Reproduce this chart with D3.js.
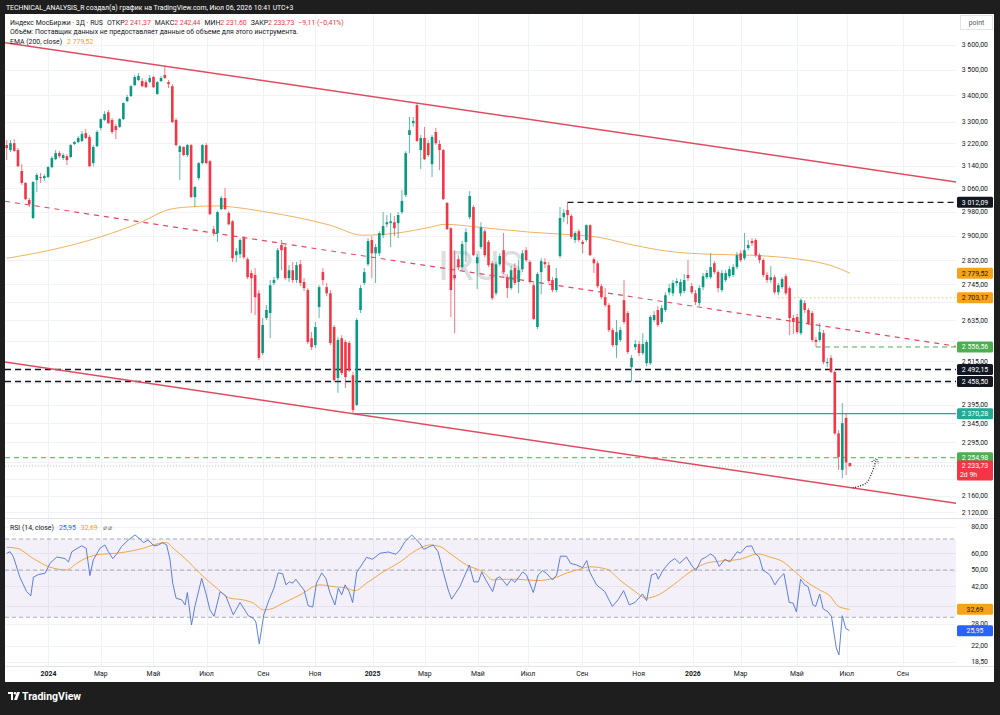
<!DOCTYPE html>
<html>
<head>
<meta charset="utf-8">
<script src="https://cdn.jsdelivr.net/npm/d3@7"></script>
<style>
  body { margin: 0; background: #1e1e1e; }
  svg text { font-family: Roboto, 'Open Sans', sans-serif; }
</style>
</head>
<body>
<svg id="chart" width="1000" height="715"></svg>
<script>
// 3-day candles, [open, high, low, close]
const candles = [
  [3214,3232,3160,3203],[3196,3232,3189,3221],[3221,3236,3189,3193],[3196,3203,3135,3138],[3121,3145,3072,3079],
  [3079,3082,3020,3023],[3020,3027,2996,3006],[2959,3086,2955,3082],[3089,3114,3047,3107],[3100,3114,3079,3098],
  [3096,3110,3086,3103],[3100,3138,3096,3135],[3135,3174,3131,3167],[3163,3196,3160,3185],[3185,3192,3167,3174],
  [3167,3185,3160,3178],[3174,3181,3142,3160],[3171,3218,3167,3214],[3218,3229,3214,3225],[3225,3247,3221,3240],
  [3229,3266,3225,3255],[3258,3273,3236,3240],[3244,3251,3135,3138],[3149,3214,3138,3207],[3210,3269,3207,3262],
  [3277,3314,3269,3310],[3307,3340,3303,3329],[3336,3344,3292,3295],[3307,3314,3255,3262],[3284,3292,3236,3269],
  [3281,3314,3277,3310],[3310,3374,3307,3371],[3378,3402,3374,3394],[3398,3440,3394,3436],[3440,3480,3436,3472],
  [3460,3488,3456,3476],[3456,3468,3432,3436],[3452,3460,3429,3432],[3452,3480,3448,3468],[3472,3476,3429,3432],
  [3406,3456,3402,3452],[3456,3476,3452,3468],[3480,3515,3464,3468],[3452,3460,3429,3444],[3436,3444,3295,3299],
  [3307,3314,3210,3214],[3189,3214,3089,3210],[3207,3210,3174,3178],[3178,3218,3171,3214],[3214,3218,3027,3030],
  [3030,3068,2996,3065],[3096,3153,3089,3149],[3149,3218,3145,3214],[3214,3221,3145,3149],[3156,3160,2969,2972],
  [2922,2932,2899,2909],[2909,2982,2880,2979],[2989,3034,2986,3027],[3027,3061,2986,2989],[2976,2982,2935,2938],
  [2948,2952,2815,2827],[2837,2860,2815,2850],[2840,2892,2827,2886],[2892,2899,2824,2830],[2824,2830,2761,2767],
  [2780,2789,2657,2764],[2774,2796,2651,2705],[2717,2727,2519,2525],[2539,2642,2533,2621],[2642,2681,2636,2666],
  [2657,2758,2582,2742],[2749,2767,2742,2758],[2764,2860,2758,2853],[2870,2886,2789,2853],[2863,2870,2758,2764],
  [2764,2805,2752,2789],[2789,2815,2749,2758],[2758,2815,2749,2805],[2808,2821,2739,2749],[2752,2764,2724,2733],
  [2727,2733,2565,2571],[2582,2600,2548,2556],[2562,2630,2553,2615],[2675,2742,2642,2736],[2783,2796,2742,2758],
  [2736,2749,2708,2717],[2717,2727,2562,2568],[2615,2621,2457,2462],[2468,2585,2427,2577],[2582,2591,2476,2482],
  [2571,2577,2440,2471],[2568,2574,2485,2490],[2476,2485,2370.28,2380],[2394,2642,2391,2636],[2666,2742,2657,2733],
  [2749,2796,2742,2783],[2808,2892,2802,2883],[2886,2899,2764,2843],[2843,2873,2749,2863],[2843,2915,2834,2909],
  [2902,2979,2892,2932],[2938,2969,2928,2945],[2942,2976,2863,2948],[2945,2966,2899,2925],[2942,2979,2892,2969],
  [2979,3054,2972,3017],[3037,3192,3030,3185],[3251,3318,3185,3269],[3295,3318,3281,3303],[3363,3371,3225,3229],
  [3196,3251,3128,3240],[3240,3281,3160,3163],[3221,3232,3171,3178],[3145,3251,3100,3244],[3262,3277,3214,3221],
  [3218,3232,3124,3196],[3196,3200,3020,3023],[3010,3013,2919,2922],[2925,2928,2645,2727],[2774,2853,2597,2764],
  [2824,2837,2789,2799],[2799,2883,2789,2873],[2880,2925,2815,2912],[2962,3051,2955,3034],[2996,3003,2834,2837],
  [2811,2840,2730,2830],[2863,2945,2857,2928],[2915,2922,2830,2837],[2880,2886,2799,2805],[2811,2818,2696,2702],
  [2717,2815,2711,2808],[2808,2843,2802,2834],[2853,2909,2777,2783],[2767,2777,2702,2733],[2733,2802,2727,2789],
  [2796,2811,2742,2749],[2752,2821,2717,2789],[2792,2853,2783,2843],[2853,2863,2815,2821],[2815,2821,2746,2752],
  [2742,2749,2636,2639],[2615,2783,2609,2777],[2783,2827,2714,2818],[2815,2827,2796,2808],[2805,2815,2749,2755],
  [2758,2767,2720,2727],[2727,2796,2720,2764],[2834,2996,2827,2959],[2962,2989,2945,2976],[2986,3012.09,2938,2969],
  [2966,2972,2889,2896],[2886,2915,2876,2909],[2915,2922,2880,2886],[2880,2886,2843,2873],[2886,2938,2880,2935],
  [2935,2938,2834,2837],[2824,2830,2780,2811],[2811,2818,2733,2739],[2739,2746,2699,2705],[2705,2733,2675,2681],
  [2681,2687,2600,2606],[2606,2612,2556,2562],[2562,2636,2525,2600],[2577,2615,2571,2606],[2696,2758,2624,2630],
  [2657,2663,2536,2542],[2499,2533,2458.5,2525],[2556,2577,2548,2565],[2565,2574,2530,2539],[2539,2597,2533,2565],
  [2510,2577,2502,2571],[2510,2651,2505,2645],[2636,2663,2630,2651],[2666,2678,2615,2621],[2630,2681,2624,2672],
  [2666,2720,2660,2711],[2720,2746,2711,2733],[2717,2758,2708,2749],[2749,2764,2739,2755],[2717,2761,2708,2752],
  [2724,2777,2717,2758],[2774,2821,2755,2764],[2739,2749,2714,2720],[2717,2727,2681,2690],[2687,2742,2678,2733],
  [2736,2780,2727,2770],[2767,2789,2761,2780],[2767,2843,2761,2799],[2811,2818,2777,2783],[2783,2789,2720,2733],
  [2727,2789,2720,2780],[2758,2789,2752,2780],[2770,2802,2764,2792],[2774,2808,2767,2799],[2799,2847,2792,2837],
  [2843,2853,2815,2821],[2827,2909,2821,2853],[2860,2886,2853,2870],[2883,2892,2867,2876],[2886,2892,2830,2837],
  [2837,2843,2811,2821],[2821,2827,2767,2774],[2774,2783,2749,2758],[2758,2802,2749,2767],[2767,2774,2714,2720],
  [2720,2749,2711,2742],[2736,2767,2730,2761],[2770,2777,2711,2717],[2733,2739,2591,2642],[2642,2651,2594,2630],
  [2645,2654,2594,2600],[2597,2702,2591,2696],[2687,2696,2657,2666],[2666,2672,2621,2627],[2657,2663,2571,2577],
  [2577,2585,2556.56,2571],[2577,2627,2571,2600],[2597,2606,2507,2513],[2510,2525,2499,2513],[2525,2533,2482,2485],
  [2485,2490,2314,2318],[2318,2327,2224,2257],[2224,2399,2203,2345],[2359,2372,2211,2242.84],[2241.37,2242.44,2231.60,2233.73]
];

// EMA(200, close): [bar, value]
const ema200 = [
  [0,2827],[11.5,2853],[24.8,2896],[36.2,2948],[42.6,2986],[48,2996],[55.9,3000],[60,2996],[69.1,2979],
  [77.9,2959],[85.9,2935],[94.6,2902],[103.7,2909],[112.4,2928],[116.4,2938],[125.7,2928],[139,2912],
  [147.8,2905],[156.8,2896],[166.3,2870],[175.4,2850],[186.8,2840],[197.4,2837],[206.2,2830],[215.2,2815],
  [219.5,2802],[224,2779.52]
];

// RSI(14) and its moving average: [bar, value]
const rsi = [
  [0,59.9],[0.9,61.0],[1.8,57.6],[3.5,46.3],[5.3,39.6],[6.4,37.8],[7.1,46.3],[8.4,47.6],[10.2,48.3],[11.5,53.8],
  [13.3,57.6],[15.5,56.6],[16.4,54.6],[17.3,61.0],[19.9,65.0],[21.1,63.4],[22.1,47.1],[23.0,55.8],[24.8,63.4],
  [26.1,65.6],[27.0,61.0],[28.2,56.6],[29.4,60.0],[30.5,64.5],[32.3,69.2],[34.1,73.1],[35.2,70.5],[36.3,67.3],
  [37.6,69.2],[39.1,65.0],[40.3,65.6],[41.4,67.3],[42.5,65.6],[43.4,55.8],[44.1,43.4],[45.0,36.9],[46.5,36.2],
  [47.4,34.3],[48.0,39.2],[49.1,27.6],[50.0,33.7],[51.8,45.7],[52.9,39.0],[54.0,32.5],[55.1,30.3],[56.7,39.6],
  [58.2,37.8],[60.2,30.8],[62.0,35.2],[64.2,30.5],[65.5,29.7],[66.2,28.5],[67.1,22.5],[68.3,30.8],[69.7,36.2],
  [71.0,41.1],[72.1,48.5],[73.3,48.1],[74.2,42.6],[75.1,44.0],[76.0,43.4],[76.8,45.3],[77.9,42.6],[79.0,40.3],
  [80.1,34.0],[81.3,33.5],[82.3,43.4],[83.7,48.5],[84.8,45.7],[85.9,39.0],[87.2,34.3],[88.1,41.1],[89.0,38.2],
  [89.9,42.6],[91.0,39.6],[91.9,35.2],[93.0,48.9],[94.3,52.8],[95.6,57.4],[97.2,56.2],[99.2,60.0],[101.4,60.8],
  [103.4,59.3],[104.5,62.1],[105.8,68.0],[107.6,73.1],[108.7,69.8],[109.6,67.3],[110.8,62.6],[112.4,64.5],
  [113.3,65.6],[114.6,61.0],[116.0,48.9],[117.3,40.3],[118.2,36.5],[120.4,41.8],[122.9,52.8],[124.1,44.0],
  [125.3,44.0],[126.2,48.9],[127.3,44.9],[129.1,39.6],[130.1,45.7],[131.0,46.5],[131.9,44.6],[132.9,42.3],
  [134.1,45.3],[135.0,43.8],[137.1,49.0],[138.1,47.4],[139.9,39.2],[141.2,47.4],[142.4,49.7],[143.4,48.3],
  [145.0,44.9],[146.1,47.4],[147.1,58.1],[148.7,58.1],[149.8,53.8],[151.4,52.8],[153.0,51.3],[154.1,55.4],
  [154.9,48.9],[156.7,42.6],[158.9,39.6],[160.9,33.7],[162.4,36.2],[163.9,40.0],[165.4,34.3],[166.9,35.2],
  [168.9,38.6],[170.0,35.9],[171.3,47.4],[172.5,48.3],[173.1,45.3],[174.4,50.1],[176.2,54.6],[177.5,56.6],
  [178.8,53.8],[180.6,57.6],[181.9,52.8],[183.1,49.7],[184.6,56.2],[185.7,57.4],[187.0,59.6],[188.1,57.6],
  [189.3,52.0],[190.8,56.2],[192.1,54.6],[194.1,61.0],[194.9,60.0],[196.5,64.5],[197.9,65.0],[198.8,60.0],
  [199.9,57.6],[200.9,50.1],[202.3,48.1],[202.9,47.0],[204.1,42.6],[205.2,45.7],[206.5,48.1],[207.9,35.2],
  [208.9,35.0],[209.8,31.8],[210.9,45.3],[212.0,42.6],[212.9,41.8],[214.2,34.3],[214.9,33.7],[216.0,38.6],
  [216.9,32.9],[218.2,31.8],[219.1,30.3],[220.4,21.5],[221.1,19.95],[222.0,30.5],[222.9,26.6],[223.9,25.95]
];
const rsiMa = [
  [0,64.0],[2.7,63.3],[7.1,56.6],[11.5,51.6],[15.9,50.1],[18.6,53.8],[21.2,57.0],[24.8,59.3],[29.2,60.0],
  [33.6,61.7],[36.3,63.3],[39.8,66.3],[42.5,67.3],[44.2,63.4],[47.8,55.8],[51.3,48.3],[55.8,41.1],[59.3,36.9],
  [62.8,36.2],[65.5,35.0],[68.2,32.5],[69.9,32.7],[73.5,35.0],[77.9,38.2],[83.2,42.6],[86.7,41.8],[90.3,41.1],
  [92.5,40.0],[95.6,43.4],[100.0,49.0],[104.5,54.6],[108.9,62.1],[112.4,65.6],[115.1,64.5],[117.7,60.0],
  [122.2,52.8],[126.6,48.9],[129.2,44.9],[131.0,45.2],[135.5,45.3],[140.8,44.6],[145.2,45.7],[148.7,48.3],
  [152.3,50.5],[154.9,51.8],[159.4,50.5],[162.9,44.9],[166.4,40.3],[170.0,36.9],[173.1,38.2],[177.1,42.6],
  [181.5,48.9],[185.9,53.9],[189.5,55.1],[194.8,56.2],[199.6,59.6],[202.7,57.6],[206.3,54.6],[208.9,50.1],
  [212.5,44.0],[216.0,40.3],[218.7,37.8],[220.9,33.8],[223.9,32.69]
];

// drawn trend lines: two anchors each, [bar, price]
const upperChannel = [[42, 3515], [109, 3371]];
const midChannel = [[0, 3015], [224, 2606]];
const lowerChannel = [[92, 2370.28], [224, 2180]];

// horizontal levels: price, first bar (null = whole chart), kind
const levels = [
  { price: 3012.09, from: 149, kind: 'black' },
  { price: 2703.17, from: 205, kind: 'orange' },
  { price: 2556.56, from: 215, kind: 'green' },
  { price: 2492.15, from: null, kind: 'black' },
  { price: 2458.50, from: null, kind: 'black' },
  { price: 2370.28, from: 92, kind: 'teal' },
  { price: 2254.98, from: null, kind: 'green' },
];

// projected path drawn by the author
const arrowPath = [[224.8, 2179], [228.3, 2191], [229.9, 2218], [231.0, 2251]];

const priceTicks = [3600, 3500, 3400, 3300, 3220, 3140, 3060, 2980, 2900, 2820, 2745, 2690, 2635,
  2575, 2515, 2455, 2395, 2345, 2295, 2245, 2200, 2160, 2120];
const rsiTicks = [80, 60, 50, 42, 34, 28, 22, 18.5];
const rsiBands = [70, 50, 30];

// month ticks in bar units
const timeTicks = [
  { bar: 11.1, label: '2024', year: true }, { bar: 25.0, label: 'Мар' }, { bar: 39.0, label: 'Май' },
  { bar: 53.1, label: 'Июл' }, { bar: 68.2, label: 'Сен' }, { bar: 81.9, label: 'Ноя' },
  { bar: 97.2, label: '2025', year: true }, { bar: 111.1, label: 'Мар' }, { bar: 125.2, label: 'Май' },
  { bar: 138.5, label: 'Июл' }, { bar: 152.9, label: 'Сен' }, { bar: 167.9, label: 'Ноя' },
  { bar: 182.3, label: '2026', year: true }, { bar: 195.0, label: 'Мар' }, { bar: 209.9, label: 'Май' },
  { bar: 223.2, label: 'Июл' }, { bar: 238.1, label: 'Сен' },
];

const W = 1000;
const H = 715;
const pane = { left: 5, right: 956, top: 14, bottom: 518 };
const rsiPane = { top: 519, bottom: 666 };

const UP = '#089981';
const DOWN = '#f23645';
const INK = '#131722';
const CHANNEL = '#e04b61';
const FS = 6.9;

const locale = d3.formatLocale({ decimal: ',', thousands: ' ', grouping: [3], currency: ['', ''] });
const fmt = locale.format(',.2f');

const svg = d3.select('#chart');

const x = d3.scaleLinear().domain([-0.45, 252.2]).range([pane.left, pane.right]);
const y = d3.scaleLog().domain([2106, 3729]).range([pane.bottom, pane.top]);
const yR = d3.scaleLog().domain([17.7, 86.9]).range([rsiPane.bottom, rsiPane.top]);

// frame
svg.append('rect').attr('width', W).attr('height', H).attr('fill', '#1e1e1e');
svg.append('rect').attr('x', 5).attr('y', 14).attr('width', 989).attr('height', 668).attr('fill', '#fff');

const defs = svg.append('defs');
defs.append('clipPath').attr('id', 'clip-main')
  .append('rect').attr('x', pane.left).attr('y', pane.top)
  .attr('width', pane.right - pane.left).attr('height', pane.bottom - pane.top);
defs.append('clipPath').attr('id', 'clip-rsi')
  .append('rect').attr('x', pane.left).attr('y', rsiPane.top)
  .attr('width', pane.right - pane.left).attr('height', rsiPane.bottom - rsiPane.top);

// grid
const grid = svg.append('g').attr('stroke', '#f0f2f6').attr('stroke-width', 1);
grid.selectAll('.hg').data(priceTicks).enter().append('line')
  .attr('x1', pane.left).attr('x2', pane.right)
  .attr('y1', d => Math.round(y(d)) + 0.5).attr('y2', d => Math.round(y(d)) + 0.5);
grid.selectAll('.rg').data(rsiTicks).enter().append('line')
  .attr('x1', pane.left).attr('x2', pane.right)
  .attr('y1', d => Math.round(yR(d)) + 0.5).attr('y2', d => Math.round(yR(d)) + 0.5);
grid.selectAll('.vg').data(timeTicks).enter().append('line')
  .attr('x1', d => Math.round(x(d.bar)) + 0.5).attr('x2', d => Math.round(x(d.bar)) + 0.5)
  .attr('y1', pane.top).attr('y2', rsiPane.bottom);

// pane separators
svg.append('line').attr('x1', 5).attr('x2', 994).attr('y1', 518.5).attr('y2', 518.5)
  .attr('stroke', '#e0e3eb');
svg.append('line').attr('x1', 5).attr('x2', 994).attr('y1', rsiPane.bottom + 0.5).attr('y2', rsiPane.bottom + 0.5)
  .attr('stroke', '#e0e3eb');

// watermark
svg.append('text')
  .attr('x', (pane.left + pane.right) / 2).attr('y', (pane.top + pane.bottom) / 2)
  .attr('text-anchor', 'middle').attr('dominant-baseline', 'central')
  .attr('font-size', 40).attr('fill', '#dcdde1')
  .text('IRUS');

const main = svg.append('g').attr('clip-path', 'url(#clip-main)');

// horizontal levels
const levelStyle = {
  black: { stroke: '#131722', dash: '6,4', width: 1.3 },
  orange: { stroke: '#f5a623', dash: '1,3', width: 1 },
  green: { stroke: '#4caf50', dash: '5,4', width: 1 },
  teal: { stroke: '#22ab94', dash: null, width: 1.3 },
};
levels.forEach((lv) => {
  const st = levelStyle[lv.kind];
  main.append('line')
    .attr('x1', lv.from === null ? pane.left : x(lv.from)).attr('x2', pane.right)
    .attr('y1', y(lv.price)).attr('y2', y(lv.price))
    .attr('stroke', st.stroke).attr('stroke-width', st.width)
    .attr('stroke-dasharray', st.dash);
});

// last price line
const last = candles[candles.length - 1];
main.append('line')
  .attr('x1', pane.left).attr('x2', pane.right)
  .attr('y1', y(last[3])).attr('y2', y(last[3]))
  .attr('stroke', '#c9a0a6').attr('stroke-width', 0.8).attr('stroke-dasharray', '1,2');

// trend lines (straight on the log scale)
const extend = (pts) => {
  const [[b1, p1], [b2, p2]] = pts;
  const k = (Math.log(p2) - Math.log(p1)) / (b2 - b1);
  const [d0, d1] = x.domain();
  return [[d0, p1 * Math.exp(k * (d0 - b1))], [d1, p1 * Math.exp(k * (d1 - b1))]];
};
const lineGen = d3.line().x(d => x(d[0])).y(d => y(d[1]));
main.append('path').attr('d', lineGen(extend(upperChannel)))
  .attr('fill', 'none').attr('stroke', CHANNEL).attr('stroke-width', 1.5);
main.append('path').attr('d', lineGen(extend(lowerChannel)))
  .attr('fill', 'none').attr('stroke', CHANNEL).attr('stroke-width', 1.5);
main.append('path').attr('d', lineGen(extend(midChannel)))
  .attr('fill', 'none').attr('stroke', CHANNEL).attr('stroke-width', 1.2)
  .attr('stroke-dasharray', '5,5');

// EMA 200
main.append('path')
  .attr('d', d3.line().curve(d3.curveMonotoneX).x(d => x(d[0])).y(d => y(d[1]))(ema200))
  .attr('fill', 'none').attr('stroke', '#f2b35c').attr('stroke-width', 1);

// candles
const bw = 2.6;
const cg = main.append('g');
cg.selectAll('line.wick').data(candles).enter().append('line')
  .attr('class', 'wick')
  .attr('x1', (d, i) => x(i)).attr('x2', (d, i) => x(i))
  .attr('y1', d => y(d[1])).attr('y2', d => y(d[2]))
  .attr('stroke', d => (d[3] >= d[0] ? UP : DOWN)).attr('stroke-opacity', 0.75)
  .attr('stroke-width', 0.9);
cg.selectAll('rect.body').data(candles).enter().append('rect')
  .attr('class', 'body')
  .attr('x', (d, i) => x(i) - bw / 2).attr('width', bw)
  .attr('y', d => y(Math.max(d[0], d[3])))
  .attr('height', d => Math.max(1, Math.abs(y(d[0]) - y(d[3]))))
  .attr('fill', d => (d[3] >= d[0] ? UP : DOWN));

// dotted projection arrow
defs.append('marker').attr('id', 'arrow-head')
  .attr('viewBox', '-5 -5 10 10').attr('markerWidth', 9).attr('markerHeight', 9)
  .attr('markerUnits', 'userSpaceOnUse').attr('orient', 'auto')
  .append('path').attr('d', 'M-4,-4 L1,0 L-4,4')
  .attr('fill', 'none').attr('stroke', '#131722').attr('stroke-width', 1.2)
  .attr('stroke-dasharray', '1,1.5');
main.append('path')
  .attr('d', d3.line().curve(d3.curveCatmullRom).x(d => x(d[0])).y(d => y(d[1]))(arrowPath))
  .attr('fill', 'none').attr('stroke', '#131722').attr('stroke-width', 1.2)
  .attr('stroke-dasharray', '1,1.5').attr('marker-end', 'url(#arrow-head)');

// RSI pane
const rg = svg.append('g').attr('clip-path', 'url(#clip-rsi)');
rg.append('rect')
  .attr('x', pane.left).attr('width', pane.right - pane.left)
  .attr('y', yR(70)).attr('height', yR(30) - yR(70))
  .attr('fill', '#7e57c2').attr('fill-opacity', 0.09);
rg.selectAll('line.band').data(rsiBands).enter().append('line')
  .attr('x1', pane.left).attr('x2', pane.right)
  .attr('y1', d => yR(d)).attr('y2', d => yR(d))
  .attr('stroke', '#9598a1').attr('stroke-width', 0.8).attr('stroke-dasharray', '4,3');
rg.append('path')
  .attr('d', d3.line().curve(d3.curveMonotoneX).x(d => x(d[0])).y(d => yR(d[1]))(rsiMa))
  .attr('fill', 'none').attr('stroke', '#f5a742').attr('stroke-width', 1);
rg.append('path')
  .attr('d', d3.line().x(d => x(d[0])).y(d => yR(d[1]))(rsi))
  .attr('fill', 'none').attr('stroke', '#4d73d6').attr('stroke-width', 0.9);

// price-scale tags
const tags = [
  { v: levels[0].price, bg: '#131722', fg: '#fff' },
  { v: ema200[ema200.length - 1][1], bg: '#f7a21b', fg: '#131722' },
  { v: levels[1].price, bg: '#f7a21b', fg: '#131722' },
  { v: levels[2].price, bg: '#4caf50', fg: '#fff' },
  { v: levels[3].price, bg: '#131722', fg: '#fff' },
  { v: levels[4].price, bg: '#131722', fg: '#fff' },
  { v: levels[5].price, bg: '#22ab94', fg: '#fff' },
  { v: levels[6].price, bg: '#4caf50', fg: '#fff' },
  { v: last[3], bg: DOWN, fg: '#fff', sub: '2d 9h' },
];
const rsiTags = [
  { v: rsiMa[rsiMa.length - 1][1], bg: '#f7a21b', fg: '#131722' },
  { v: rsi[rsi.length - 1][1], bg: '#2962ff', fg: '#fff' },
];
const tagBoxes = tags.map(t => ({ top: y(t.v) - 5.5, bottom: y(t.v) + (t.sub ? 14.5 : 5.5) }));
const rsiBoxes = rsiTags.map(t => ({ top: yR(t.v) - 5.5, bottom: yR(t.v) + 5.5 }));
const hidden = (py, boxes) => boxes.some(b => py > b.top - 1.5 && py < b.bottom + 1.5);

const axisText = svg.append('g').attr('font-size', FS).attr('fill', INK).attr('text-anchor', 'end');
axisText.selectAll('text.p').data(priceTicks.filter(t => !hidden(y(t), tagBoxes))).enter()
  .append('text').attr('x', 988).attr('y', d => y(d)).attr('dy', '0.35em').text(d => fmt(d));
axisText.selectAll('text.r').data(rsiTicks.filter(t => !hidden(yR(t), rsiBoxes))).enter()
  .append('text').attr('x', 988).attr('y', d => yR(d)).attr('dy', '0.35em').text(d => fmt(d));

const drawTag = (t, yy) => {
  const g = svg.append('g');
  g.append('rect').attr('x', 957).attr('y', yy - 5.5).attr('width', 36)
    .attr('height', t.sub ? 20 : 11).attr('rx', 1.5).attr('fill', t.bg);
  g.append('text').attr('x', 975).attr('y', yy).attr('dy', '0.35em')
    .attr('text-anchor', 'middle').attr('font-size', FS).attr('fill', t.fg).text(fmt(t.v));
  if (t.sub) {
    g.append('text').attr('x', 960).attr('y', yy + 9).attr('dy', '0.35em')
      .attr('font-size', FS).attr('fill', t.fg).text(t.sub);
  }
};
tags.forEach(t => drawTag(t, y(t.v)));
rsiTags.forEach(t => drawTag(t, yR(t.v)));

// "point" unit box
svg.append('rect').attr('x', 960.5).attr('y', 15.5).attr('width', 32).attr('height', 14)
  .attr('fill', '#fff').attr('stroke', '#e0e3eb');
svg.append('text').attr('x', 976.5).attr('y', 22.5).attr('dy', '0.35em')
  .attr('text-anchor', 'middle').attr('font-size', FS).attr('fill', '#555').text('point');

// time axis
svg.append('g').attr('font-size', FS).attr('fill', INK).attr('text-anchor', 'middle')
  .selectAll('text').data(timeTicks).enter().append('text')
  .attr('x', d => x(d.bar)).attr('y', 674).attr('dy', '0.35em')
  .attr('font-weight', d => (d.year ? 'bold' : null))
  .text(d => d.label);

// top caption
svg.append('text').attr('x', 6).attr('y', 8).attr('dy', '0.35em')
  .attr('font-size', FS).attr('fill', '#fff')
  .text('TECHNICAL_ANALYSIS_R создал(а) график на TradingView.com, Июл 06, 2026 10:41 UTC+3');

// legend
const prevClose = candles[candles.length - 2][3];
const chg = last[3] - prevClose;
const fmtPct = locale.format('.2f');
const legend = svg.append('text').attr('x', 10).attr('y', 22.5).attr('dy', '0.35em')
  .attr('font-size', FS).attr('fill', INK);
legend.append('tspan').text('Индекс МосБиржи · 3Д · RUS');
[['ОТКР', last[0]], ['МАКС', last[1]], ['МИН', last[2]], ['ЗАКР', last[3]]].forEach(([k, v]) => {
  legend.append('tspan').attr('dx', 4).text(k);
  legend.append('tspan').attr('fill', DOWN).text(fmt(v));
});
legend.append('tspan').attr('dx', 4).attr('fill', DOWN)
  .text(`${fmt(chg)} (${fmtPct(chg / prevClose * 100)}%)`);

svg.append('text').attr('x', 10).attr('y', 32).attr('dy', '0.35em')
  .attr('font-size', FS).attr('fill', INK)
  .text('Объём: Поставщик данных не предоставляет данные об объеме для этого инструмента.');

const emaLegend = svg.append('text').attr('x', 10).attr('y', 41.5).attr('dy', '0.35em')
  .attr('font-size', FS).attr('fill', INK);
emaLegend.append('tspan').text('EMA (200, close)');
emaLegend.append('tspan').attr('dx', 5).attr('fill', '#f0a020').text(fmt(ema200[ema200.length - 1][1]));

const rsiLegend = svg.append('text').attr('x', 10).attr('y', 528).attr('dy', '0.35em')
  .attr('font-size', FS).attr('fill', INK);
rsiLegend.append('tspan').text('RSI (14, close)');
rsiLegend.append('tspan').attr('dx', 5).attr('fill', '#2962ff').text(fmt(rsi[rsi.length - 1][1]));
rsiLegend.append('tspan').attr('dx', 5).attr('fill', '#f0a020').text(fmt(rsiMa[rsiMa.length - 1][1]));
rsiLegend.append('tspan').attr('dx', 5).attr('fill', '#777').text('⌀ ⌀');

// TradingView mark
const logo = svg.append('g').attr('transform', 'translate(8,692)').attr('fill', '#fff');
logo.append('path').attr('d', 'M0,0 H5 V8 H3 V2 H0 Z');
logo.append('circle').attr('cx', 7).attr('cy', 1.3).attr('r', 1.3);
logo.append('path').attr('d', 'M9,0 H12 L9,8 H6 Z');
svg.append('text').attr('x', 22).attr('y', 696.5).attr('dy', '0.35em')
  .attr('font-size', 10.5).attr('font-weight', 'bold').attr('fill', '#fff')
  .text('TradingView');
</script>
</body>
</html>
